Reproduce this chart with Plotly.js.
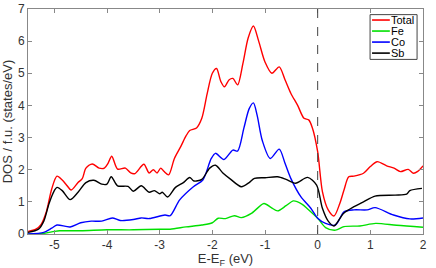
<!DOCTYPE html>
<html><head><meta charset="utf-8">
<script src="https://cdn.plot.ly/plotly-3.0.1.min.js"></script>
<style>html,body{margin:0;padding:0;background:#fff}#plot{width:436px;height:268px}</style>
</head><body><div id="plot"></div>
<script>
const totalE = [-5.5,-5.35,-5.25,-5.15,-5.05,-4.95,-4.85,-4.78,-4.68,-4.55,-4.47,-4.4,-4.28,-4.15,-4.05,-3.98,-3.91,-3.8,-3.65,-3.55,-3.47,-3.3,-3.2,-3.12,-3.05,-2.98,-2.92,-2.83,-2.72,-2.6,-2.5,-2.43,-2.3,-2.2,-2.1,-2.0,-1.92,-1.84,-1.77,-1.68,-1.61,-1.52,-1.42,-1.32,-1.22,-1.12,-1.0,-0.87,-0.73,-0.62,-0.51,-0.38,-0.26,-0.17,-0.1,0.0,0.09,0.2,0.31,0.42,0.5,0.59,0.69,0.87,1.0,1.13,1.31,1.45,1.57,1.72,1.82,1.9,2.0];
const totalV = [0.08,0.15,0.3,0.7,1.4,1.8,1.68,1.55,1.37,1.6,1.72,2.05,2.18,2.05,2.05,2.2,2.42,2.02,2.05,1.9,1.88,2.17,1.9,2.0,1.9,2.05,1.95,1.84,2.35,2.72,3.05,3.22,3.3,3.6,4.35,5.0,5.15,4.75,4.58,4.8,4.84,4.64,5.3,6.1,6.47,6.0,5.35,5.0,5.2,4.8,4.38,4.0,3.6,3.55,3.3,2.56,1.32,0.75,0.56,0.95,1.37,1.78,1.8,1.89,2.1,2.25,2.12,2.05,1.94,2.01,1.89,1.95,2.12];

const feE = [-5.5,-5.2,-5.0,-4.9,-4.5,-4.0,-3.5,-3.0,-2.8,-2.5,-2.2,-2.0,-1.89,-1.75,-1.58,-1.45,-1.25,-1.02,-0.88,-0.76,-0.6,-0.46,-0.3,-0.19,0.0,0.15,0.34,0.5,0.8,1.1,1.5,2.0];
const feV = [0.0,0.02,0.08,0.1,0.1,0.13,0.13,0.15,0.15,0.22,0.28,0.35,0.49,0.48,0.57,0.51,0.65,0.95,0.82,0.72,0.88,1.03,0.93,0.78,0.49,0.2,0.12,0.23,0.25,0.33,0.27,0.21];

const coE = [-5.5,-5.2,-5.05,-4.95,-4.7,-4.5,-4.3,-4.1,-3.9,-3.75,-3.5,-3.35,-3.2,-2.9,-2.8,-2.62,-2.36,-2.18,-2.02,-1.94,-1.78,-1.61,-1.52,-1.4,-1.3,-1.22,-1.15,-1.05,-0.9,-0.73,-0.62,-0.51,-0.32,-0.13,0.0,0.15,0.34,0.5,0.69,0.94,1.09,1.44,1.75,2.0];
const coV = [0.0,0.05,0.18,0.28,0.22,0.35,0.4,0.4,0.5,0.42,0.45,0.5,0.48,0.59,0.57,1.06,1.47,1.68,2.35,2.51,2.32,2.61,2.58,3.3,3.9,4.08,3.7,2.9,2.35,2.64,2.2,1.73,1.16,0.8,0.49,0.33,0.28,0.69,0.75,0.75,0.82,0.59,0.47,0.5];

const sbE = [-5.5,-5.3,-5.2,-5.1,-5.0,-4.95,-4.85,-4.7,-4.55,-4.4,-4.25,-4.1,-4.0,-3.92,-3.8,-3.6,-3.5,-3.35,-3.2,-3.1,-3.0,-2.95,-2.85,-2.7,-2.55,-2.43,-2.35,-2.2,-2.05,-1.94,-1.8,-1.65,-1.45,-1.3,-1.2,-1.0,-0.76,-0.6,-0.42,-0.19,-0.02,0.09,0.2,0.31,0.49,0.69,0.87,1.09,1.47,1.69,1.75,1.98];
const sbV = [0.05,0.15,0.4,0.95,1.35,1.45,1.35,1.07,1.3,1.6,1.67,1.55,1.55,1.78,1.5,1.48,1.33,1.5,1.3,1.35,1.25,1.3,1.15,1.45,1.6,1.76,1.65,1.7,2.05,2.14,1.9,1.7,1.47,1.6,1.73,1.75,1.78,1.7,1.58,1.76,1.52,0.8,0.4,0.25,0.64,0.85,1.0,1.18,1.21,1.24,1.35,1.42];

const xTicks = [-5,-4,-3,-2,-1,0,1,2];
const xTickText = ['-5','-4','-3','-2','-1','0','1','2'];
const yTicks = [0,1,2,3,4,5,6,7];
const seriesNames = ['Total','Fe','Co','Sb'];
const seriesColors = ['#ff0000','#00e000','#0000ff','#000000'];

const FONT = 'Liberation Sans, Arial, sans-serif';
const mk = (x,y,i)=>({x:x,y:y,name:seriesNames[i],type:'scatter',mode:'lines',showlegend:false,
  line:{color:seriesColors[i],width:1.4,shape:'spline',smoothing:0.8},hoverinfo:'skip'});

const data = [mk(totalE,totalV,0),mk(feE,feV,1),mk(coE,coV,2),mk(sbE,sbV,3)];

// compact MATLAB-style legend built from shapes + annotations (paper coords)
const legX0=0.866, legX1=0.985, legY0=0.776, legY1=0.975;
const legRowY = i => 0.951 - i*0.049;
const shapes = [
  {type:'line',xref:'x',yref:'paper',x0:0,x1:0,y0:0,y1:1,line:{color:'#444',width:1,dash:'dash'}},
  {type:'rect',xref:'paper',yref:'paper',x0:legX0,x1:legX1,y0:legY0,y1:legY1,fillcolor:'#fff',line:{color:'#444',width:1},layer:'above'}
];
const annotations = [];
seriesNames.forEach((n,i)=>{
  shapes.push({type:'line',xref:'paper',yref:'paper',x0:0.871,x1:0.916,y0:legRowY(i),y1:legRowY(i),
    line:{color:seriesColors[i],width:1.6},layer:'above'});
  annotations.push({xref:'paper',yref:'paper',x:0.917,y:legRowY(i),xanchor:'left',yanchor:'middle',
    text:n,showarrow:false,borderpad:0,font:{family:FONT,size:11,color:'#000'}});
});

const axCommon = {showline:true,linecolor:'#888',linewidth:1,mirror:'ticks',ticks:'inside',
  ticklen:4,tickcolor:'#888',showgrid:false,zeroline:false,
  tickfont:{family:FONT,size:12,color:'#333'}};

const layout = {
  width:436,height:268,
  margin:{l:28,r:13,t:9,b:34},
  paper_bgcolor:'#fff',plot_bgcolor:'#fff',
  xaxis:Object.assign({},axCommon,{range:[-5.5,2],tickvals:xTicks,ticktext:xTickText,
    title:{text:'E-E<sub>F</sub> (eV)',standoff:4,font:{family:FONT,size:13,color:'#333'}}}),
  yaxis:Object.assign({},axCommon,{range:[0,7],tickvals:yTicks,
    title:{text:'DOS / f.u. (states/eV)',standoff:6,font:{family:FONT,size:13,color:'#333'}}}),
  showlegend:false,
  shapes:shapes,
  annotations:annotations
};

Plotly.newPlot('plot',data,layout,{staticPlot:true,displayModeBar:false});
</script></body></html>
